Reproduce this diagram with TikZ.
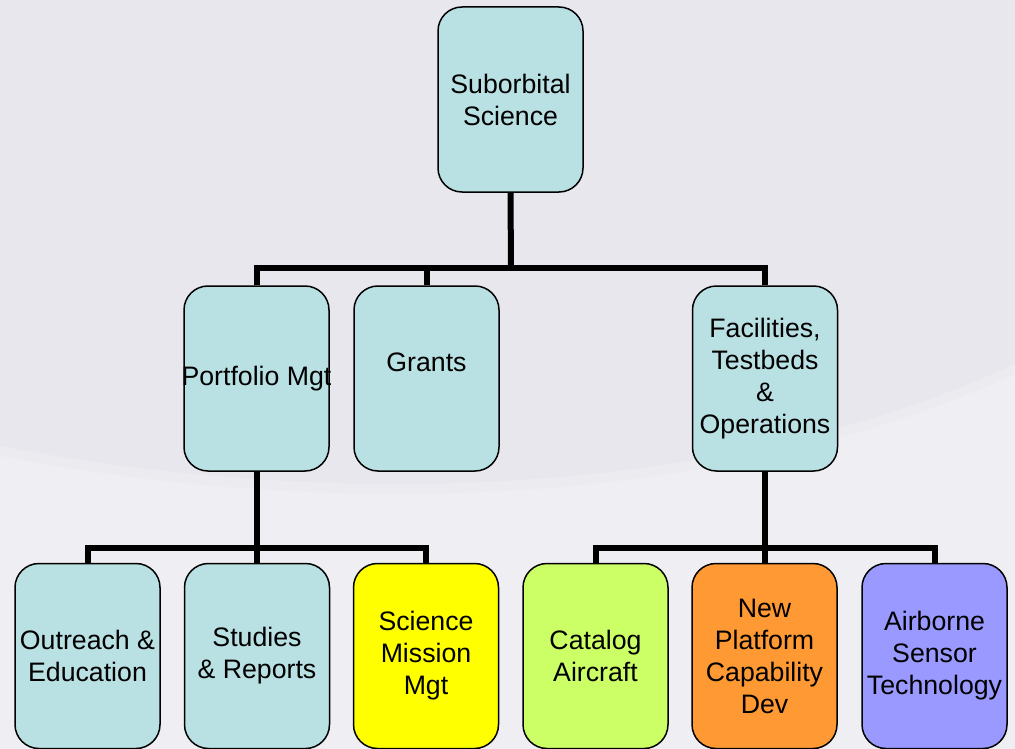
\documentclass[tikz,border=0pt]{standalone}
\usepackage{fontspec}
\setmainfont{Liberation Sans}
\definecolor{bgdark}{HTML}{E8E7EE}
\definecolor{bgmid}{HTML}{ECEBF0}
\definecolor{bglight}{HTML}{EFEEF2}
\definecolor{boxblue}{HTML}{B9E0E3}
\definecolor{boxyellow}{HTML}{FFFF00}
\definecolor{boxgreen}{HTML}{CCFF66}
\definecolor{boxorange}{HTML}{FF9933}
\definecolor{boxpurple}{HTML}{9999FF}
\begin{document}
\begin{tikzpicture}[x=1pt,y=-1pt,
  box/.style={draw=black, line width=1.5pt, fill=boxblue, rounded corners=24pt,
    minimum width=145pt, minimum height=185pt, inner sep=0pt, align=center,
    font=\fontsize{26.7}{32}\selectfont},
  conn/.style={draw=black, line width=6pt, line join=miter, line cap=butt}]
\useasboundingbox (0,0) rectangle (1015,749);
\fill[bgdark] (0,0) rectangle (1015,749);
\fill[bgmid] (0,446) .. controls (300,504) and (700,509) .. (1015,364) -- (1015,749) -- (0,749) -- cycle;
\fill[bglight] (0,456) .. controls (300,514) and (700,519) .. (1015,374) -- (1015,749) -- (0,749) -- cycle;

\coordinate (b1) at (511,268);
\coordinate (b2) at (257,548);
\coordinate (b3) at (766,548);

\node[box] (top) at (510.5,99.5) {Suborbital\\Science};

\node[box] (port) at (256.5,378.5) {\makebox[0pt][c]{Portfolio Mgt}};
\node[box] (grants) at (426.5,378.5) {Grants\\\mbox{}};
\node[box] (fac) at (765,378.5) {Facilities,\\Testbeds\\\&\\Operations};

\node[box] (out) at (87.5,656) {Outreach \&\\Education};
\node[box] (stud) at (257,656) {Studies\\\& Reports};
\node[box, fill=boxyellow] (sci) at (426,656) {Science\\Mission\\Mgt};
\node[box, fill=boxgreen] (cat) at (595.5,656) {Catalog\\Aircraft};
\node[box, fill=boxorange] (newp) at (764.5,656) {New\\Platform\\Capability\\Dev};
\node[box, fill=boxpurple] (air) at (934.5,656) {Airborne\\Sensor\\Technology};

\draw[conn] (top.south) -- (b1);
\draw[conn] (port.north) |- (b1) -| (fac.north);
\draw[conn] (grants.north) -- (grants.north |- b1);

\draw[conn] (port.south) -- (port.south |- b2);
\draw[conn] (out.north) |- (b2) -| (sci.north);
\draw[conn] (stud.north) -- (stud.north |- b2);

\draw[conn] (fac.south) -- (fac.south |- b3);
\draw[conn] (cat.north) |- (b3) -| (air.north);
\draw[conn] (newp.north) -- (newp.north |- b3);
\end{tikzpicture}
\end{document}
